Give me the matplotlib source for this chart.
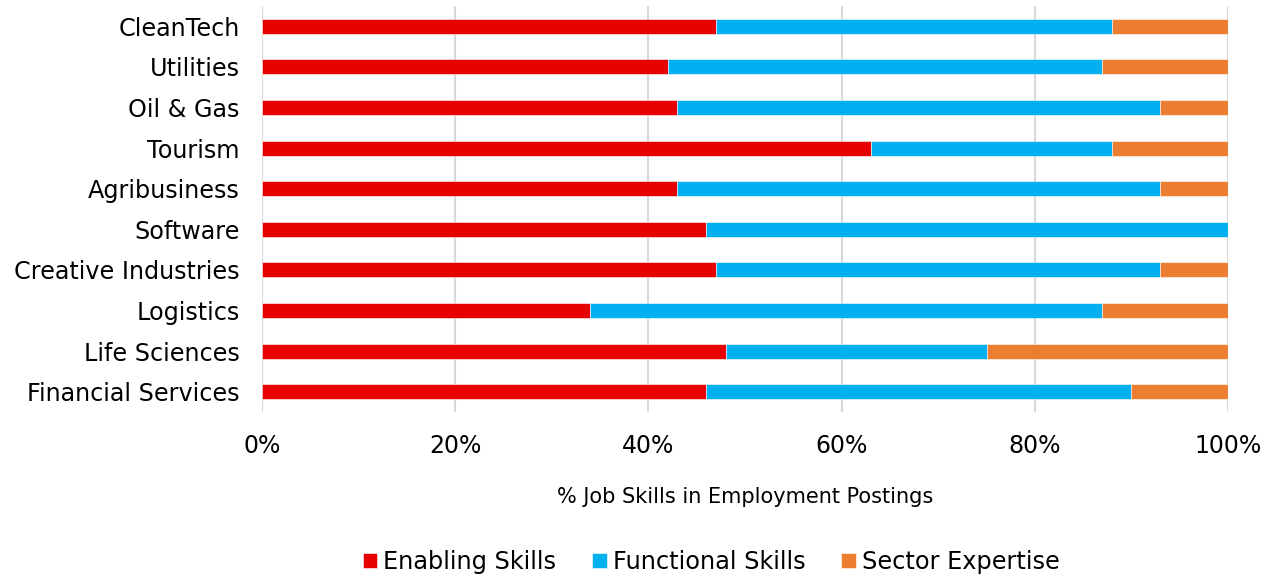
import numpy as np
import matplotlib.pyplot as plt
from matplotlib.ticker import PercentFormatter

# Sectors, top to bottom as shown
sectors = ['CleanTech', 'Utilities', 'Oil & Gas', 'Tourism', 'Agribusiness',
           'Software', 'Creative Industries', 'Logistics', 'Life Sciences',
           'Financial Services']

# Share of job skills in postings (%)
enabling = [47, 42, 43, 63, 43, 46, 47, 34, 48, 46]
functional = [41, 45, 50, 25, 50, 54, 46, 53, 27, 44]
sector_exp = [12, 13, 7, 12, 7, 0, 7, 13, 25, 10]

colors = ['#E60000', '#00B0F0', '#ED7D31']
labels = ['Enabling Skills', 'Functional Skills', 'Sector Expertise']

fig = plt.figure(figsize=(12.81, 5.76), dpi=100)
ax = fig.add_axes([262/1281, 1 - 412/576, (1228-262)/1281, (412-6)/576])

y = np.arange(len(sectors))[::-1]
left = np.zeros(len(sectors))
for vals, c, lab in zip([enabling, functional, sector_exp], colors, labels):
    vals = np.array(vals, dtype=float)
    ax.barh(y, vals, left=left, height=0.37, color=c, label=lab,
            edgecolor='white', linewidth=0.4)
    left += vals

ax.set_xlim(0, 100)
ax.set_ylim(-0.5, len(sectors) - 0.5)
ax.set_yticks(y)
ax.set_yticklabels(sectors, fontsize=17.2)
ax.set_xticks(np.arange(0, 101, 20))
ax.xaxis.set_major_formatter(PercentFormatter(decimals=0))
ax.tick_params(axis='x', labelsize=17, pad=16, length=0)
ax.tick_params(axis='y', length=0, pad=16)
ax.xaxis.grid(True, color='#D9D9D9', linewidth=1.5)
ax.set_axisbelow(True)
for s in ax.spines.values():
    s.set_visible(False)

ax.set_xlabel('% Job Skills in Employment Postings', fontsize=15, labelpad=21)

ax.legend(loc='center', bbox_to_anchor=(0.465, -0.37), ncol=3, frameon=False,
          fontsize=17.3, handlelength=0.6, handleheight=0.6, handletextpad=0.25,
          columnspacing=1.5)

fig.savefig('out.png', dpi=100)
